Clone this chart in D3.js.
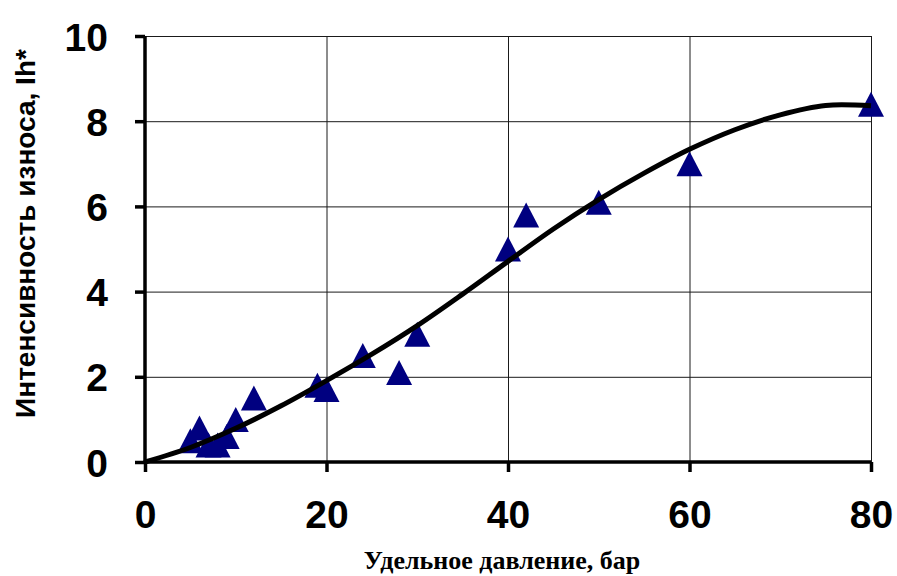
<!DOCTYPE html>
<html>
<head>
<meta charset="utf-8">
<script src="https://cdn.jsdelivr.net/npm/d3@7/dist/d3.min.js"></script>
<style>
  html, body { margin: 0; padding: 0; background: #fff; }
  svg { display: block; }
</style>
</head>
<body>
<svg id="chart" width="897" height="576"></svg>
<script>
// Measured points: specific pressure (bar) vs wear intensity
const pressure = [5, 6, 7, 8, 9, 10, 12, 19, 20, 24, 28, 30, 40, 42, 50, 60, 80];
const wear     = [0.5, 0.8, 0.4, 0.4, 0.6, 1.0, 1.5, 1.8, 1.7, 2.5, 2.1, 3.0, 5.0, 5.8, 6.1, 7.0, 8.4];

// Trend line, sampled along its course
const trendX = [0, 5, 10, 15, 20, 25, 30, 35, 40, 45, 50, 55, 60, 65, 70, 75, 80];
const trendY = [0, 0.34, 0.79, 1.32, 1.91, 2.53, 3.2, 3.94, 4.71, 5.47, 6.16, 6.78, 7.34, 7.8, 8.15, 8.37, 8.36];

const xTicks = [0, 20, 40, 60, 80];
const yTicks = [0, 2, 4, 6, 8, 10];

const xTitle = "Удельное давление, бар";
const yTitle = "Интенсивность износа, Ih*";

const svg = d3.select("#chart");

const x = d3.scaleLinear().domain([0, 80]).range([145, 871]);
const y = d3.scaleLinear().domain([0, 10]).range([462, 36]);

// Grid
const grid = svg.append("g").attr("stroke", "#1a1a1a").attr("stroke-width", 1);
grid.selectAll("line.h").data(yTicks.filter(d => d > 0)).join("line")
  .attr("class", "h")
  .attr("x1", x(0)).attr("x2", x(80))
  .attr("y1", d => y(d) + 0.5).attr("y2", d => y(d) + 0.5);
grid.selectAll("line.v").data(xTicks.filter(d => d > 0)).join("line")
  .attr("class", "v")
  .attr("x1", d => x(d) + 0.5).attr("x2", d => x(d) + 0.5)
  .attr("y1", y(10)).attr("y2", y(0));

// Axes
const tickFont = "bold 39px 'Liberation Sans', Arial, sans-serif";

const yAxis = d3.axisLeft(y).tickValues(yTicks).tickSize(10).tickPadding(27).tickFormat(d3.format("d"));
const gy = svg.append("g").attr("transform", `translate(${x(0)},0)`).call(yAxis);
gy.select(".domain").attr("stroke", "#000").attr("stroke-width", 3.5).attr("d", `M0,${y(10)}V${y(0) + 1.5}`);
gy.selectAll(".tick line").attr("stroke", "#000").attr("stroke-width", 3.5);
gy.selectAll(".tick text").style("font", tickFont).attr("fill", "#000").attr("dy", "0.36em");

const xAxis = d3.axisBottom(x).tickValues(xTicks).tickSize(10).tickPadding(28).tickFormat(d3.format("d"));
const gx = svg.append("g").attr("transform", `translate(0,${y(0)})`).call(xAxis);
gx.select(".domain").attr("stroke", "#000").attr("stroke-width", 3.5).attr("d", `M${x(0) - 1.5},0H${x(80)}`);
gx.selectAll(".tick line").attr("stroke", "#000").attr("stroke-width", 3.5);
gx.selectAll(".tick text").style("font", tickFont).attr("fill", "#000").attr("dy", "0.71em");

// Markers: triangles centred on their bounding box
const triW = 26, triH = 25;
const triangle = () => {
  const p = d3.path();
  p.moveTo(0, -triH / 2);
  p.lineTo(triW / 2, triH / 2);
  p.lineTo(-triW / 2, triH / 2);
  p.closePath();
  return p.toString();
};
svg.append("g").selectAll("path").data(pressure.map((p, i) => [p, wear[i]])).join("path")
  .attr("d", triangle())
  .attr("transform", d => `translate(${x(d[0])},${y(d[1])})`)
  .attr("fill", "#000080");

// Trend line
const line = d3.line().x(d => x(d[0])).y(d => y(d[1])).curve(d3.curveCatmullRom.alpha(0.5));
svg.append("path")
  .datum(trendX.map((v, i) => [v, trendY[i]]))
  .attr("d", line)
  .attr("fill", "none")
  .attr("stroke", "#000")
  .attr("stroke-width", 5)
  .attr("stroke-linecap", "butt");

// Axis titles
svg.append("text")
  .attr("x", (x(0) + x(80)) / 2 - 6)
  .attr("y", 569)
  .attr("text-anchor", "middle")
  .style("font", "bold 26px 'Liberation Serif', 'Times New Roman', serif")
  .attr("fill", "#000")
  .text(xTitle);

svg.append("text")
  .attr("transform", `translate(35,${(50 + 417) / 2}) rotate(-90)`)
  .attr("text-anchor", "middle")
  .style("font", "bold 28px 'Liberation Sans', Arial, sans-serif")
  .attr("fill", "#000")
  .text(yTitle);
</script>
</body>
</html>
